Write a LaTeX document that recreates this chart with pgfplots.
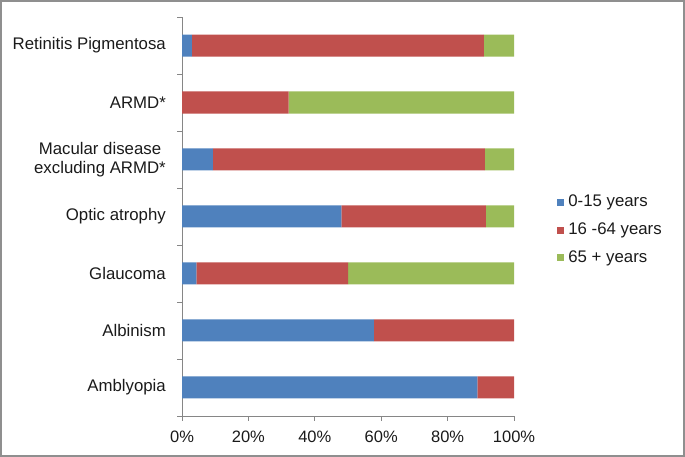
\documentclass[border=0pt]{standalone}
\usepackage{pgfplots}
\pgfplotsset{compat=1.18}
\usepackage{fontspec}
\setmainfont{Liberation Sans}
\definecolor{cblue}{HTML}{4F81BD}
\definecolor{cred}{HTML}{C0504D}
\definecolor{cgreen}{HTML}{9BBB59}
\definecolor{axgray}{HTML}{868686}
\definecolor{framegray}{HTML}{8F8F8F}
\definecolor{txt}{HTML}{1A1A1A}
\begin{document}
\fontsize{16.5bp}{19bp}\selectfont
\begin{tikzpicture}
\draw[framegray, line width=2bp] (1bp,1bp) rectangle (684bp,456bp);
\begin{axis}[
  at={(182bp,41bp)}, anchor=south west, scale only axis,
  width=332bp, height=399bp,
  xbar stacked, bar width=22bp,
  xmin=0, xmax=100, ymin=-0.5, ymax=6.5, enlargelimits=false,
  axis lines*=left,
  axis line style={-, draw=axgray, line width=0.8bp},
  xtick={0,20,...,100},
  xticklabels={0\%,20\%,40\%,60\%,80\%,100\%},
  ytick={0,...,6},
  yticklabels={Amblyopia,Albinism,Glaucoma,Optic atrophy,{Macular disease\\excluding ARMD*},ARMD*,Retinitis Pigmentosa},
  minor ytick={-0.5,0.5,...,6.5},
  tick align=outside,
  major tick length=5bp, minor tick length=5bp,
  major y tick style={draw=none},
  minor y tick style={draw=axgray, line width=0.8bp},
  major x tick style={draw=axgray, line width=0.8bp},
  xticklabel style={font=\fontsize{16.5bp}{19bp}\selectfont, text=txt, inner sep=0pt, yshift=-10bp},
  yticklabel style={font=\fontsize{16.8bp}{19.5bp}\selectfont, text=txt, align=center, inner sep=0pt, xshift=-11bp},
  legend style={at={(1.130,0.466)}, anchor=west, draw=none, fill=none,
    font=\fontsize{16.8bp}{19.5bp}\selectfont, text=txt, row sep=9.7bp,
    cells={anchor=west}, inner sep=0pt,
    /tikz/every odd column/.append style={column sep=2.5bp}},
  legend image code/.code={\draw[#1, draw=none] (0bp,-3.5bp) rectangle (6.5bp,3.5bp);},
]
\addplot[fill=cblue, draw=none] coordinates {(89.0,0) (57.8,1) (4.3,2) (48.0,3) (9.3,4) (0,5) (3.0,6)};
\addplot[fill=cred, draw=none] coordinates {(11.0,0) (42.2,1) (45.7,2) (43.5,3) (81.9,4) (32.1,5) (87.9,6)};
\addplot[fill=cgreen, draw=none] coordinates {(0,0) (0,1) (50.0,2) (8.5,3) (8.8,4) (67.9,5) (9.1,6)};
\legend{0-15 years, 16 -64 years, 65 + years}
\end{axis}
\end{tikzpicture}
\end{document}
